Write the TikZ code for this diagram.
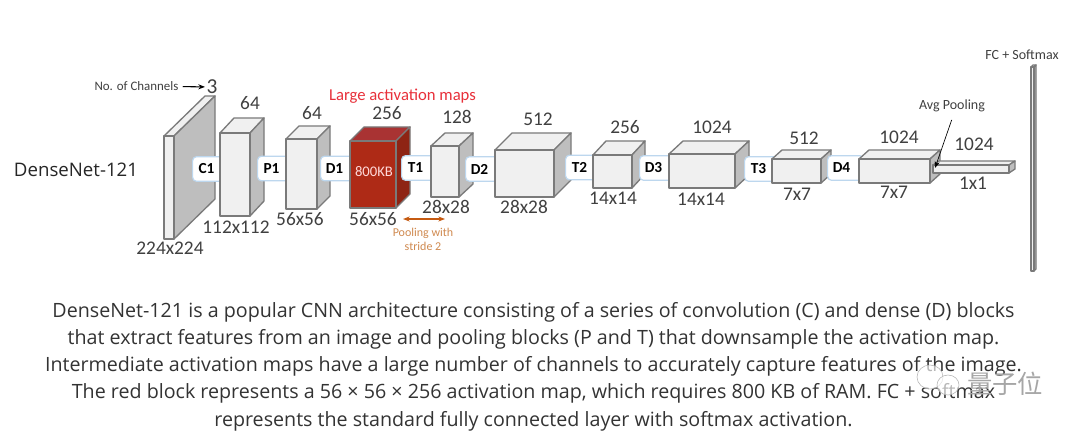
\documentclass[tikz,border=0pt]{standalone}
\usepackage{fontspec}
\setmainfont{Carlito}
\newfontfamily\capfont{Open Sans}
\newfontfamily\cjkfont{Noto Sans CJK SC}
\usepackage{xcolor}
\usetikzlibrary{arrows.meta,positioning,calc}

\definecolor{edgegrey}{HTML}{7A7A7A}
\definecolor{faceface}{HTML}{F0F0F0}
\definecolor{sideface}{HTML}{BEBEBE}
\definecolor{gateblue}{HTML}{BDD7EE}
\definecolor{numgrey}{HTML}{404040}
\definecolor{redfront}{HTML}{AE2A16}
\definecolor{redtop}{HTML}{A93333}
\definecolor{redside}{HTML}{8E2414}
\definecolor{poolorange}{HTML}{C55A11}
\definecolor{poolcolor}{HTML}{D08A50}
\definecolor{largered}{HTML}{E8303A}

\tikzset{
  layerface/.style={draw=edgegrey,line width=1pt,line join=round},
  front/.style={layerface,fill=faceface},
  top/.style={layerface,fill=faceface},
  side/.style={layerface,fill=sideface},
  redblock/.style={
    front/.style={layerface,fill=redfront},
    top/.style={layerface,fill=redtop},
    side/.style={layerface,fill=redside}},
  gate/.style={draw=gateblue,fill=white,line width=0.9pt,rounded corners=3pt,
    anchor=west,minimum height=18.5pt,minimum width=27pt,inner sep=0pt},
  gatetext/.style={font=\fontsize{11.5}{13}\selectfont\bfseries,text=black,inner sep=0pt},
  numtext/.style={font=\fontsize{14.5}{16}\selectfont,text=numgrey,inner sep=0pt},
  smalltext/.style={font=\fontsize{10.5}{12}\selectfont,text=numgrey,inner sep=0pt},
}

% one layer: {style}{x}{y}{width}{height}{dx}{dy}
\newcommand{\layerblock}[7][]{
  \begin{scope}[#1]
    \draw[top] (#2,#3) -- ++(#6,-#7) -- ++(#4,0) -- ++(-#6,#7) -- cycle;
    \draw[side] (#2+#4,#3) -- ++(#6,-#7) -- ++(0,#5) -- ++(-#6,#7) -- cycle;
    \draw[front] (#2,#3) rectangle ++(#4,#5);
  \end{scope}
}
% one block between two layers: {name}{text}{left x}{mid y}
\newcommand{\gatebox}[4]{
  \node[gate] (#1) at (#3,#4) {};
  \node[gatetext] at ([xshift=10.9pt]#1.west) {#2};
}

\begin{document}
\begin{tikzpicture}[x=0.75pt,y=-0.75pt]
  \useasboundingbox (0,0) rectangle (1080,431);
  \fill[white] (0,0) rectangle (1080,431);

  % the network, drawn left to right so each layer hides the block before it
  \layerblock{164}{136}{10}{103}{41}{40}
  \gatebox{c1}{C1}{192}{169}
  \layerblock{220}{133}{30}{83}{14}{15}
  \gatebox{p1}{P1}{257}{168.5}
  \layerblock{286}{139}{31}{70}{13}{13}
  \gatebox{d1}{D1}{320}{168.5}
  \layerblock[redblock]{350}{141}{46}{67}{14}{14}
  \gatebox{t1}{T1}{401}{168}
  \layerblock{431}{146}{28}{51}{14}{13}
  \gatebox{d2}{D2}{465}{169}
  \layerblock{495}{150}{59}{47}{17}{17}
  \gatebox{t2}{T2}{565}{167.5}
  \layerblock{593}{155}{39}{33}{13}{14}
  \gatebox{d3}{D3}{639}{168}
  \layerblock{669}{154}{66}{34}{14}{13}
  \gatebox{t3}{T3}{744}{169}
  \layerblock{772}{159}{49}{24}{10}{9}
  \gatebox{d4}{D4}{827}{168}
  \layerblock{859}{159}{71}{24}{10}{9}
  \layerblock{933}{165}{76}{8}{6}{4}
  \layerblock{1031}{67}{3}{204}{2}{2}

  \node[font=\fontsize{11}{13}\selectfont,text=white!85!red,inner sep=0pt] (mem) at (374,172) {800KB};

  % sizes above and below the layers
  \foreach \x/\y/\t in {250/103/64,312/113/64,387/113/256,457/117/128,538/119/512,
      625/127/256,712/127/1024,804/138/512,899/137/1024,974/144/1024,
      170/248/224x224,236/227/112x112,300/219/56x56,373/219/56x56,446/207/28x28,
      524/207/28x28,613/198/14x14,701/199/14x14,797/194/7x7,894/192/7x7,973/183/1x1}
    \node[numtext] at (\x,\y) {\t};

  \node[font=\capfont\fontsize{14}{16}\selectfont,text=black!85,inner sep=0pt] (netname) at (76,170) {DenseNet-121};
  \node[font=\fontsize{9.7}{11}\selectfont,text=numgrey,inner sep=0pt] (chlabel) at (136.5,86) {No. of Channels};
  \node[font=\fontsize{16}{18}\selectfont,text=numgrey,inner sep=1pt] (chnum) at (212,87) {3};
  \draw[line width=0.8pt,-{Stealth[length=5pt]},shorten <=3pt] (chlabel) -- (chnum);

  \node[font=\fontsize{12.5}{14}\selectfont,text=largered,inner sep=0pt] (large) at (402.5,96.5) {Large activation maps};

  \coordinate (poolL) at (403,219);
  \coordinate (poolR) at (445,219);
  \draw[poolorange,line width=1pt,{Stealth[length=5pt]}-{Stealth[length=5pt]}] (poolL) -- (poolR);
  \node[align=center,font=\fontsize{9}{10.6}\selectfont,text=poolcolor,inner sep=0pt] (poolnote) at (423,239) {Pooling with\\stride 2};

  \node[smalltext] (avglabel) at (952,106) {Avg Pooling};
  \coordinate (avgtip) at (935,168);
  \draw[line width=0.5pt,-{Stealth[length=5pt]},shorten <=6pt] (avglabel.-70) -- (avgtip);
  \node[smalltext] (fclabel) at (1022,55) {FC + Softmax};

  \node[align=center,font=\capfont\fontsize{14.75}{20.45}\selectfont,text=black!80,inner sep=0pt] (caption) at (533.5,366.5) {%
    DenseNet-121 is a popular CNN architecture consisting of a series of convolution (C) and dense (D) blocks\\
    that extract features from an image and pooling blocks (P and T) that downsample the activation map.\\
    Intermediate activation maps have a large number of channels to accurately capture features of the image.\\
    The red block represents a 56 × 56 × 256 activation map, which requires 800 KB of RAM. FC + softmax\\
    represents the standard fully connected layer with softmax activation.};

  % watermark over the caption
  \draw[black!30,fill=white,fill opacity=0.65,line width=0.4pt] (930,377) ellipse (13 and 12);
  \draw[black!30,fill=white,fill opacity=0.65,line width=0.4pt] (948,385) ellipse (11 and 10);
  \node[font=\cjkfont\fontsize{19}{21}\selectfont,text=black!35,inner sep=0pt] (mark) at (1005,384) {量子位};
\end{tikzpicture}
\end{document}
